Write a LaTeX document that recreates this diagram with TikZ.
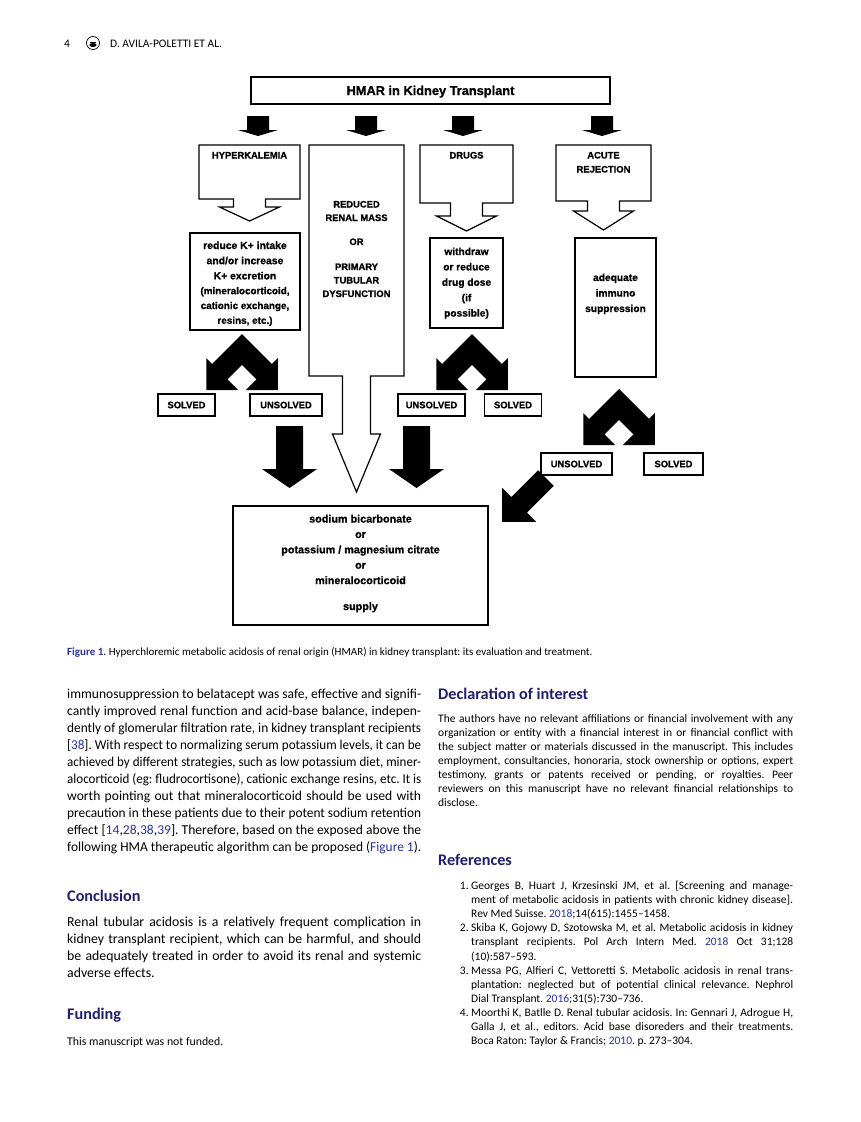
\documentclass[tikz,border=0pt]{standalone}
\usepackage{graphicx}
\usepackage{fontspec}
\setmainfont{Carlito}
\newfontfamily\arialf{Liberation Sans}[BoldFeatures={FakeBold=0.9}]
\definecolor{navy}{RGB}{30,30,110}
\definecolor{lnk}{RGB}{40,52,160}
\hbadness=10000 \hfuzz=80pt \vbadness=10000
\frenchspacing
\newlength\colw
\newsavebox\fitsave
\newcommand\fitbox[2]{\sbox\fitsave{#2}\ifdim\wd\fitsave>#1\relax\hbox to #1{\resizebox{#1}{\height}{\usebox\fitsave}}\else\hbox to #1{#2}\fi}
\newcommand\dsz[1]{\arialf\bfseries\fontsize{#1}{#1}\selectfont}
\newcommand\J[1]{\fitbox{\colw}{#1}}
\newcommand\Lst[1]{\hbox{#1}}
\newcommand\Ctr[1]{\hbox to 0pt{\hss #1\hss}}
\newcommand\Rf[2]{\hbox{\hbox to 33pt{\hfil #1\kern2.5pt}\fitbox{322pt}{#2}}}
\newcommand\Rc[1]{\hbox{\hbox to 33pt{}\fitbox{322pt}{#1}}}
\newcommand\Rl[1]{\hbox{\hbox to 33pt{}#1}}
\newcommand\lk[1]{\textcolor{lnk}{#1}}
% chevron: centre x, apex y, scale
\newcommand\chev[3]{%
 \begin{scope}[shift={(#1,#2)}, scale=#3]
 \fill (0,0) -- (27.25,27.25) -- (32.5,22) -- (32.5,51) -- (3.5,51) -- (13.25,41.25) -- (0,28)
   -- (-13.25,41.25) -- (-3.5,51) -- (-32.5,51) -- (-32.5,22) -- (-27.25,27.25) -- cycle;
 \end{scope}}
% down arrow: cx, ytop, yhead, ytip, shaft half, head half
\newcommand\darr[6]{%
 \fill ({#1-#5},#2) -- ({#1+#5},#2) -- ({#1+#5},#3) -- ({#1+#6},#3) -- (#1,#4)
   -- ({#1-#6},#3) -- ({#1-#5},#3) -- cycle;}
% callout: x1, x2, ytop, ybot, stem half, stem bottom, head half, tip
\newcommand\callout[8]{%
 \draw[line width=1.2pt, line join=miter] (#1,#3) -- (#2,#3) -- (#2,#4) -- ({(#1+#2)/2+#5},#4)
   -- ({(#1+#2)/2+#5},#6) -- ({(#1+#2)/2+#7},#6) -- ({(#1+#2)/2},#8) -- ({(#1+#2)/2-#7},#6)
   -- ({(#1+#2)/2-#5},#6) -- ({(#1+#2)/2-#5},#4) -- (#1,#4) -- cycle;}
\tikzset{
 rbox/.style={draw, line width=1.2pt, inner sep=0pt},
 txt/.style={inner sep=0pt, anchor=base},
 ptxt/.style={inner sep=0pt, anchor=base west},
 head/.style={inner sep=0pt, anchor=base west, text=navy, font=\bfseries\fontsize{16.2}{18}\selectfont}
}
\begin{document}
\begin{tikzpicture}[x=1pt,y=-1pt]
\useasboundingbox (0,0) rectangle (861,1122);
\fill[white] (0,0) rectangle (861,1122);

% header
\node[ptxt] (pg) at (64,47) {\fontsize{11.5}{12}\selectfont 4};
\draw[line width=0.7pt] (93,43) circle[radius=6.5];
\fill (93,45) ellipse[x radius=3.6, y radius=2];
\draw[line width=0.5pt] (90,42) -- (96,42);
\node[ptxt] (auth) at (110,47) {\fontsize{11.5}{12}\selectfont D. AVILA-POLETTI ET AL.};

% ===== diagram =====
\node[rbox, minimum width=359pt, minimum height=27pt] (title) at (430.5,90.5) {};
\node[txt] (titlet) at (430.5,95) {\dsz{12.8}HMAR in Kidney Transplant};

\darr{258}{116}{130}{136}{11}{20}
\darr{366}{116}{130}{136}{11}{20}
\darr{463}{116}{130}{136}{11}{20}
\darr{602}{116}{130}{136}{11}{20}

\callout{199}{300}{145}{199}{16}{207}{30}{221}
\callout{309}{404}{145}{376}{14}{434}{24}{492}
\callout{420}{513}{145}{203}{16}{216}{30}{231}
\callout{556}{651}{145}{201}{16}{211}{30}{230}

\node[txt] (hyp) at (249.5,158.5) {\dsz{9.4}HYPERKALEMIA};
\node[txt] (drg) at (466.5,158.5) {\dsz{9.4}DRUGS};
\node[txt] (acu) at (603.5,158.5) {\vtop{\dsz{9.4}\baselineskip=14pt\Ctr{ACUTE}\Ctr{REJECTION}}};
\node[txt] (red) at (356.5,207.5) {\vtop{\dsz{9.4}\baselineskip=13.5pt
  \Ctr{REDUCED}\Ctr{RENAL MASS}\vskip10.5pt\Ctr{OR}\vskip11.5pt\Ctr{PRIMARY}\Ctr{TUBULAR}\Ctr{DYSFUNCTION}}};

\node[rbox, minimum width=110pt, minimum height=97pt] (kbox) at (245,281.5) {};
\node[txt] (kt) at (245,249) {\vtop{\dsz{10.4}\baselineskip=15.2pt
  \Ctr{reduce K+ intake}\Ctr{and/or increase}\Ctr{K+ excretion}
  \dsz{9.9}\baselineskip=14.8pt\Ctr{(mineralocorticoid,}\Ctr{cationic exchange,}\Ctr{resins, etc.)}}};

\node[rbox, minimum width=73pt, minimum height=90pt] (wbox) at (466.5,283) {};
\node[txt] (wt) at (466.5,255) {\vtop{\dsz{10.2}\baselineskip=15.4pt
  \Ctr{withdraw}\Ctr{or reduce}\Ctr{drug dose}\Ctr{(if}\Ctr{possible)}}};

\node[rbox, minimum width=81pt, minimum height=139pt] (abox) at (615.5,307.5) {};
\node[txt] (at) at (615.5,281) {\vtop{\dsz{10.2}\baselineskip=15.5pt
  \Ctr{adequate}\Ctr{immuno}\Ctr{suppression}}};

\chev{242}{334}{1.1}
\chev{472}{334}{1.1}
\chev{619}{389}{1.1}

\node[rbox, minimum width=57pt, minimum height=22pt] (solvL) at (186.5,405) {\dsz{9.4}SOLVED};
\node[rbox, minimum width=72pt, minimum height=22pt] (unsL) at (286,405) {\dsz{9.4}UNSOLVED};
\node[rbox, minimum width=67pt, minimum height=22pt] (unsM) at (431.5,405) {\dsz{9.4}UNSOLVED};
\node[rbox, minimum width=57pt, minimum height=22pt] (solvM) at (513,405) {\dsz{9.4}SOLVED};
\node[rbox, minimum width=71pt, minimum height=22pt] (unsR) at (576.5,464) {\dsz{9.4}UNSOLVED};
\node[rbox, minimum width=59pt, minimum height=22pt] (solvR) at (673.5,464) {\dsz{9.4}SOLVED};

\darr{289.5}{426}{469}{488}{13.5}{27.5}
\darr{416.5}{426}{469}{488}{13.5}{27.5}
% diagonal arrow (tail upper right, tip lower left)
\begin{scope}[shift={(546,478)}, rotate=-135]
 \fill (0,-11) -- (38,-11) -- (38,-24) -- (62,0) -- (38,24) -- (38,11) -- (0,11) -- cycle;
\end{scope}

\node[rbox, minimum width=255pt, minimum height=119pt] (sod) at (360.5,565.5) {};
\node[txt] (sodt) at (360.5,522.5) {\vtop{\dsz{10.8}\baselineskip=15.4pt
  \Ctr{sodium bicarbonate}\Ctr{or}\Ctr{potassium / magnesium citrate}\Ctr{or}\Ctr{mineralocorticoid}
  \vskip10.5pt\Ctr{supply}}};

% caption
\node[ptxt] (cap) at (67,655.5) {\fontsize{11}{12}\selectfont\textcolor{lnk}{\bfseries Figure 1.} Hyperchloremic metabolic acidosis of renal origin (HMAR) in kidney transplant: its evaluation and treatment.};

% ===== left column =====
\node[ptxt] (p1) at (67,698) {\vtop{\fontsize{13.6}{17.1}\selectfont\colw=354pt
\J{immunosuppression to belatacept was safe, effective and signifi-}
\J{cantly improved renal function and acid-base balance, indepen-}
\J{dently of glomerular filtration rate, in kidney transplant recipients}
\J{[\lk{38}]. With respect to normalizing serum potassium levels, it can be}
\J{achieved by different strategies, such as low potassium diet, miner-}
\J{alocorticoid (eg: fludrocortisone), cationic exchange resins, etc. It is}
\J{worth pointing out that mineralocorticoid should be used with}
\J{precaution in these patients due to their potent sodium retention}
\J{effect [\lk{14},\lk{28},\lk{38},\lk{39}]. Therefore, based on the exposed above the}
\J{following HMA therapeutic algorithm can be proposed (\lk{Figure 1}).}}};

\node[head] (hcon) at (67,901) {Conclusion};
\node[ptxt] (p2) at (67,926) {\vtop{\fontsize{13.8}{17.1}\selectfont\colw=354pt
\J{Renal tubular acidosis is a relatively frequent complication in}
\J{kidney transplant recipient, which can be harmful, and should}
\J{be adequately treated in order to avoid its renal and systemic}
\Lst{adverse effects.}}};

\node[head] (hfun) at (67,1019) {Funding};
\node[ptxt] (p3) at (67,1045) {\fontsize{11.8}{14}\selectfont This manuscript was not funded.};

% ===== right column =====
\node[head] (hdec) at (438,699) {Declaration of interest};
\node[ptxt] (p4) at (438,722.5) {\vtop{\fontsize{11.5}{14}\selectfont\colw=355pt
\J{The authors have no relevant affiliations or financial involvement with any}
\J{organization or entity with a financial interest in or financial conflict with}
\J{the subject matter or materials discussed in the manuscript. This includes}
\J{employment, consultancies, honoraria, stock ownership or options, expert}
\J{testimony, grants or patents received or pending, or royalties. Peer}
\J{reviewers on this manuscript have no relevant financial relationships to}
\Lst{disclose.}}};

\node[head] (href) at (438,865) {References};
\node[ptxt] (p5) at (438,889.5) {\vtop{\fontsize{11.5}{14.1}\selectfont
\Rf{1.}{Georges B, Huart J, Krzesinski JM, et al. [Screening and manage-}
\Rc{ment of metabolic acidosis in patients with chronic kidney disease].}
\Rl{Rev Med Suisse. \lk{2018};14(615):1455–1458.}
\Rf{2.}{Skiba K, Gojowy D, Szotowska M, et al. Metabolic acidosis in kidney}
\Rc{transplant recipients. Pol Arch Intern Med. \lk{2018} Oct 31;128}
\Rl{(10):587–593.}
\Rf{3.}{Messa PG, Alfieri C, Vettoretti S. Metabolic acidosis in renal trans-}
\Rc{plantation: neglected but of potential clinical relevance. Nephrol}
\Rl{Dial Transplant. \lk{2016};31(5):730–736.}
\Rf{4.}{Moorthi K, Batlle D. Renal tubular acidosis. In: Gennari J, Adrogue H,}
\Rc{Galla J, et al., editors. Acid base disoreders and their treatments.}
\Rl{Boca Raton: Taylor \& Francis; \lk{2010}. p. 273–304.}}};
\end{tikzpicture}
\end{document}
